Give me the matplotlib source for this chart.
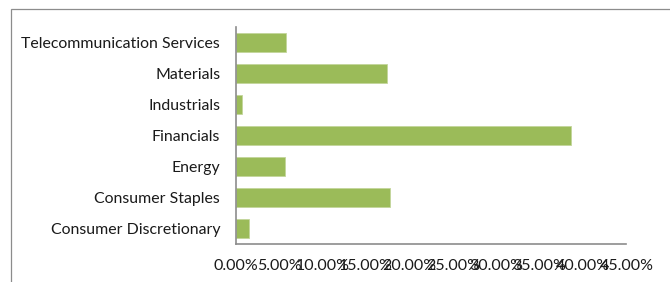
import matplotlib
matplotlib.use("Agg")
import matplotlib.pyplot as plt
from matplotlib.patches import Rectangle
from matplotlib.ticker import FuncFormatter

categories = ["Consumer Discretionary", "Consumer Staples", "Energy", "Financials",
              "Industrials", "Materials", "Telecommunication Services"]
values = [1.52, 17.74, 5.73, 38.64, 0.78, 17.43, 5.78]
xticks = [0, 5, 10, 15, 20, 25, 30, 35, 40, 45]

plt.rcParams['font.family'] = ['Lato', 'DejaVu Sans']

W, H = 670, 282
fig = plt.figure(figsize=(W / 100, H / 100), dpi=100)
ax = fig.add_axes([235.5 / W, 1 - 244 / H, (626.5 - 235.5) / W, (244 - 27) / H])

# outer chart border (only top and left visible)
fig.patches.append(Rectangle((11 / W, -0.1), 1.2, (1 - 9 / H) + 0.1, transform=fig.transFigure,
                             fill=False, edgecolor="#8c8c8c", linewidth=0.9))

y = list(range(len(categories)))
ax.barh(y, values, height=0.63, color="#9bbb59", edgecolor="#c3d69b", linewidth=0.6)
ax.set_yticks(y)
ax.set_yticklabels(categories, fontsize=11.4, color="#1a1a1a")
ax.set_ylim(-0.5, len(categories) - 0.5)
ax.set_xlim(0, 45)
ax.set_xticks(xticks)
ax.xaxis.set_major_formatter(FuncFormatter(lambda v, p: f"{v:.2f}%"))
ax.tick_params(axis='x', length=0, pad=11, labelsize=11.5, labelcolor="#1a1a1a")
ax.tick_params(axis='y', length=0, pad=11)
for s in ["top", "right"]:
    ax.spines[s].set_visible(False)
for s in ["left", "bottom"]:
    ax.spines[s].set_color("#8c8c8c")
    ax.spines[s].set_linewidth(1.2)

fig.savefig("out.png", dpi=100)
